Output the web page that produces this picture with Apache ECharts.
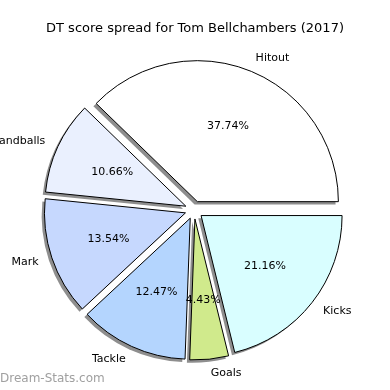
<!DOCTYPE html>
<html><head><meta charset="utf-8">
<script src="https://cdn.jsdelivr.net/npm/echarts@6/dist/echarts.min.js"></script>
<style>html,body{margin:0;padding:0;background:#fff}#c{width:390px;height:390px}</style>
</head><body><div id="c"></div>
<script>
var categories = ['Hitout','Handballs','Mark','Tackle','Goals','Kicks'];
var values = [37.74, 10.66, 13.54, 12.47, 4.43, 21.16];
var colors = ['#ffffff','#eaf0fe','#c6d8fe','#b4d5fe','#d0ea8c','#d9feff'];
var titleText = 'DT score spread for Tom Bellchambers (2017)';
var watermark = 'Dream-Stats.com';

var R = 141, C = [194, 210], OFF = 9;
var font = 'DejaVu Sans';
function mk(fill){
  return categories.map(function(c,i){
    return {name:c, value:values[i], selected:true,
      itemStyle: {color: fill === null ? colors[i] : fill}};
  });
}
var chart = echarts.init(document.getElementById('c'), null, {renderer:'canvas'});
chart.setOption({
  animation:false,
  title:{text:titleText, left:'center', top:17, textStyle:{fontFamily:font, fontSize:13, fontWeight:'normal', color:'#000'}},
  graphic:[{type:'text', left:0, top:373, style:{text:watermark, fill:'#a0a0a0', font:'12px "DejaVu Sans"'}}],
  series:[
    {type:'pie', center:[C[0]-2.8, C[1]+2.8], radius:[0,R], startAngle:0, clockwise:false, z:1,
     selectedMode:'multiple', selectedOffset:OFF, silent:true,
     itemStyle:{borderWidth:0},
     label:{show:false}, labelLine:{show:false},
     emphasis:{disabled:true},
     data:mk('#8e8e8e')},
    {type:'pie', center:C, radius:[0,R], startAngle:0, clockwise:false, z:2,
     selectedMode:'multiple', selectedOffset:OFF, avoidLabelOverlap:false,
     itemStyle:{borderColor:'#000', borderWidth:1},
     label:{show:true, position:'outside', formatter:'{b}', fontFamily:font, fontSize:11, color:'#000', distanceToLabelLine:0},
     labelLine:{show:false, length:14, length2:0},
     emphasis:{disabled:true},
     data:mk(null)},
    {type:'pie', center:C, radius:[0.555*R-1,0.555*R+1], startAngle:0, clockwise:false, z:3,
     selectedMode:'multiple', selectedOffset:OFF, avoidLabelOverlap:false, silent:true,
     label:{show:true, position:'inside', formatter:function(p){return p.value.toFixed(2)+'%';}, fontFamily:font, fontSize:11, color:'#000'},
     labelLine:{show:false},
     emphasis:{disabled:true},
     data:mk('rgba(0,0,0,0)')}
  ]
});
</script></body></html>
